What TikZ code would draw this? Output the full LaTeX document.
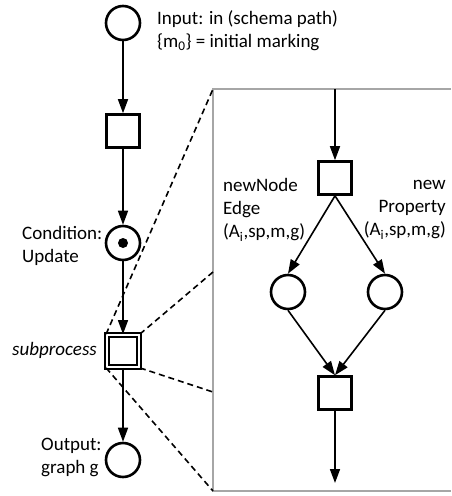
\documentclass[tikz,border=0pt]{standalone}
\usepackage{fontspec}
\setmainfont{Carlito}
\usetikzlibrary{arrows.meta}

\begin{document}
\begin{tikzpicture}[
  x=1pt, y=-1pt,
  font=\fontsize{19}{23}\selectfont,
  place/.style={draw, circle, line width=2.6pt, minimum size=34pt, inner sep=0pt},
  trans/.style={draw, rectangle, line width=2.6pt, minimum size=33pt, inner sep=0pt},
  token/.style={circle, fill=black, minimum size=10pt, inner sep=0pt},
  arr/.style={-{Triangle[length=14pt, width=10pt]}, line width=1.6pt},
  zoomline/.style={dashed, line width=1.6pt, dash pattern=on 6pt off 4pt},
  lbl/.style={align=left, inner sep=0pt},
]
  \useasboundingbox (0,0) rectangle (451,496);

  % zoom frame
  \coordinate (boxTL) at (213,89);
  \coordinate (boxBL) at (213,491);
  \coordinate (boxmid1) at (213,272);
  \coordinate (boxmid2) at (213,392);
  \draw[line width=1.4pt, black!35] (451,89) -- (boxTL) -- (boxBL) -- (451,491);

  % main net
  \node[place] (in)   at (123,23)  {};
  \node[trans] (t1)   at (123,131) {};
  \node[place] (cond) at (123,243) {};
  \node[token]        at (cond)    {};
  \node[draw, rectangle, line width=1.8pt, double, double distance=2.6pt,
        minimum size=32pt, inner sep=0pt] (sub) at (123,351) {};
  \node[place] (out)  at (123,460) {};

  \draw[arr] (in.south) -- (t1.north);
  \draw[arr] (t1.south) -- (cond.north);
  \draw[arr] (cond.south) -- (sub.north);
  \draw[arr] (sub.south) -- (out.north);

  \draw[zoomline] (sub.north west) -- (boxTL);
  \draw[zoomline] (sub.north east) -- (boxmid1);
  \draw[zoomline] (sub.south east) -- (boxmid2);
  \draw[zoomline] (sub.south west) -- (boxBL);

  \node[lbl, anchor=west] (inlbl) at (157,31)
    {Input: in (schema path)\\\{m\textsubscript{0}\} = initial marking};
  \node[lbl, anchor=west] (condlbl) at (22,246) {Condition:\\Update};
  \node[lbl, anchor=east, font=\fontsize{19}{23}\selectfont\itshape] (sublbl) at (97,350) {subprocess};
  \node[lbl, anchor=west] (outlbl) at (41,457) {Output:\\graph g};

  % subprocess detail
  \coordinate (entry) at (335,89);
  \coordinate (exit)  at (335,483);
  \node[trans] (split) at (335,178) {};
  \node[place] (pL)    at (288,292) {};
  \node[place] (pR)    at (385,292) {};
  \node[trans] (join)  at (335,393) {};

  \draw[arr] (entry) -- (split.north);
  \draw[arr] (split.south) -- (pL.north);
  \draw[arr] (split.south) -- (pR.north);
  \draw[arr] (pL.south) -- (join.north);
  \draw[arr] (pR.south) -- (join.north);
  \draw[arr] (join.south) -- (exit);

  \node[lbl, anchor=west] (edgelbl) at (223,210)
    {newNode\\Edge\\(A\textsubscript{i},sp,m,g)};
  \node[lbl, anchor=east, align=right] (proplbl) at (446,210)
    {new\\Property\\(A\textsubscript{i},sp,m,g)};
\end{tikzpicture}
\end{document}
